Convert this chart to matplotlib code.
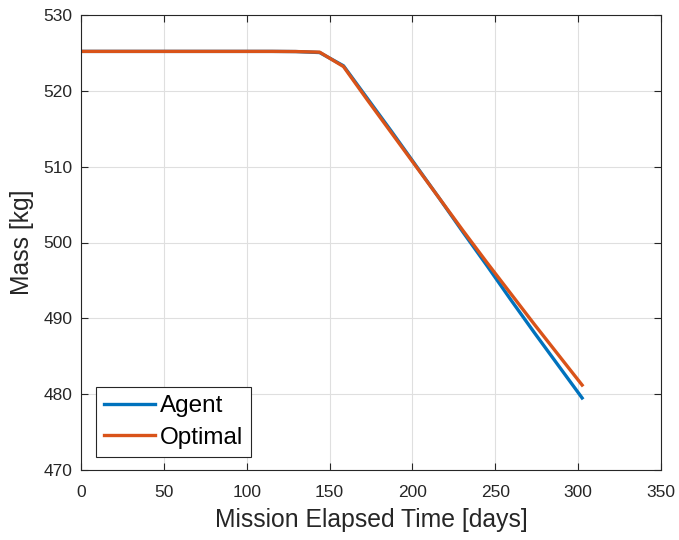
import matplotlib
matplotlib.use("Agg")
import matplotlib.pyplot as plt

plt.rcParams['font.family'] = ['Liberation Sans', 'DejaVu Sans']

time_days = [0, 14.4, 28.8, 43.2, 57.6, 72.0, 86.4, 100.8, 115.2, 129.6, 144.0,
             158.4, 172.8, 187.2, 201.6, 216.0, 230.4, 244.8, 259.2, 273.6, 288.0, 302.4]
agent_mass = [525.2, 525.2, 525.2, 525.2, 525.2, 525.2, 525.2, 525.2, 525.2, 525.18, 525.05,
              523.3, 519.0, 514.7, 510.3, 505.9, 501.4, 497.0, 492.5, 488.1, 483.8, 479.5]
optimal_mass = [525.2, 525.2, 525.2, 525.2, 525.2, 525.2, 525.2, 525.2, 525.2, 525.18, 525.1,
                523.2, 518.8, 514.5, 510.2, 505.9, 501.6, 497.4, 493.3, 489.2, 485.2, 481.2]

x_ticks = [0, 50, 100, 150, 200, 250, 300, 350]
y_ticks = [470, 480, 490, 500, 510, 520, 530]

fig = plt.figure(figsize=(6.79, 5.40), dpi=100)
ax = fig.add_axes([81/679, 1-470/540, (661-81)/679, (470-15)/540])

ax.plot(time_days, agent_mass, color='#0072BD', lw=2.4, label='Agent')
ax.plot(time_days, optimal_mass, color='#D95319', lw=2.4, label='Optimal')

ax.set_xlim(0, 350)
ax.set_ylim(470, 530)
ax.set_xticks(x_ticks)
ax.set_yticks(y_ticks)
ax.grid(True, color='#dfdfdf', lw=0.8)
ax.set_axisbelow(True)
for s in ax.spines.values():
    s.set_color('#262626')
    s.set_linewidth(0.8)
ax.tick_params(direction='in', top=True, right=True, length=5, width=0.8,
               colors='#262626', labelsize=12.5)
ax.tick_params(axis='x', pad=10.5)
ax.tick_params(axis='y', pad=6)
ax.set_xlabel('Mission Elapsed Time [days]', fontsize=17.8, color='#262626', labelpad=6)
ax.set_ylabel('Mass [kg]', fontsize=17.8, color='#262626', labelpad=7)

leg = ax.legend(loc='lower left', bbox_to_anchor=(15/580, 13/455), fontsize=17.5,
                frameon=True, fancybox=False, edgecolor='#262626', framealpha=1,
                handlelength=2.1, handletextpad=0.2, borderpad=0.33, labelspacing=0.4,
                borderaxespad=0)
leg.get_frame().set_linewidth(0.8)

fig.savefig('out.png', dpi=100)
